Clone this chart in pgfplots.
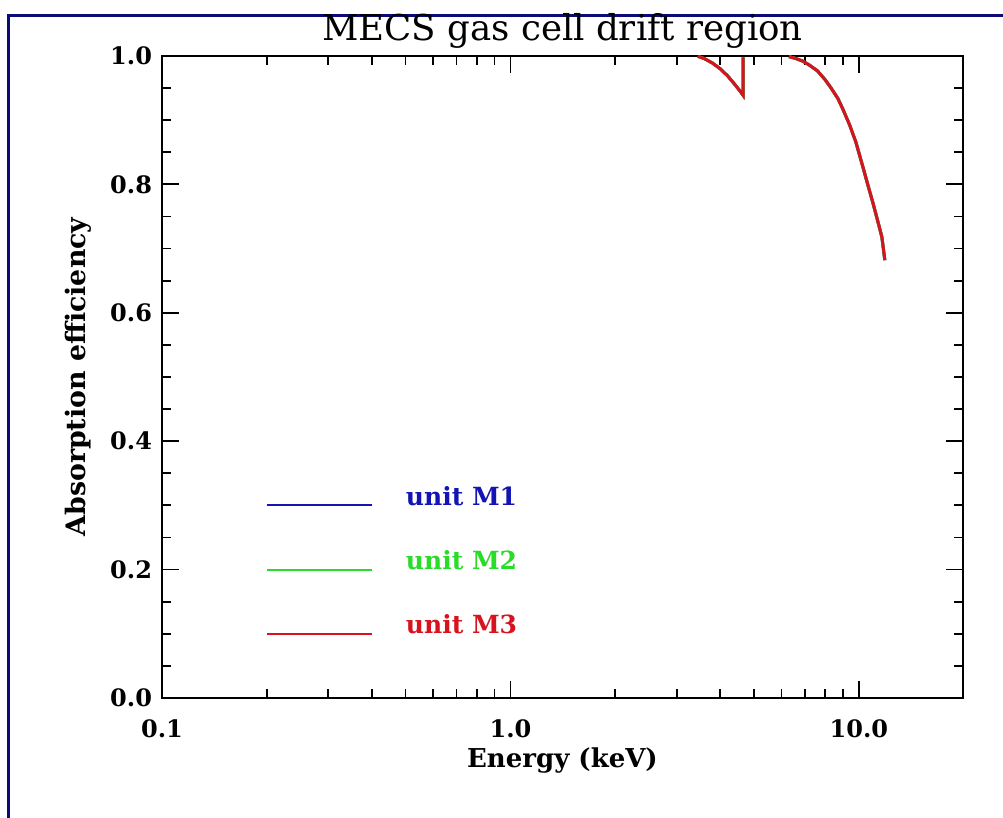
\documentclass[border=0pt]{standalone}
\usepackage{fontspec}
\setmainfont{DejaVu Serif}
\usepackage{pgfplots}
\pgfplotsset{compat=1.18}
\definecolor{framec}{RGB}{10,10,120}
\definecolor{cblue}{RGB}{20,20,180}
\definecolor{cgreen}{RGB}{40,220,40}
\definecolor{cred}{RGB}{215,20,30}
\pgfplotstableread{
E v
3.45 0.9995
3.60 0.996
3.80 0.989
4.00 0.980
4.20 0.969
4.40 0.956
4.55 0.946
4.65 0.939
4.65 0.998
}\segA
\pgfplotstableread{
E v
6.30 0.999
6.60 0.996
6.90 0.992
7.20 0.986
7.60 0.977
8.00 0.963
8.30 0.951
8.70 0.934
9.00 0.917
9.40 0.893
9.80 0.866
10.27 0.827
10.60 0.800
11.00 0.769
11.40 0.737
11.64 0.718
11.87 0.682
}\segB
\begin{document}
\begin{tikzpicture}
\useasboundingbox (0,0) rectangle (501.5bp,409bp);
\fill[white] (0,0) rectangle (501.5bp,409bp);
\draw[framec, line width=1.6bp] (4.25bp,0) -- (4.25bp,401.25bp) -- (501.5bp,401.25bp);
\begin{axis}[
  at={(81bp,60bp)}, anchor=south west,
  scale only axis, width=400.5bp, height=321bp,
  xmode=log, xmin=0.1, xmax=19.9, ymin=0, ymax=1,
  xtick={0.1,1,10}, xticklabels={0.1,1.0,10.0},
  minor xtick={0.2,0.3,0.4,0.5,0.6,0.7,0.8,0.9,2,3,4,5,6,7,8,9},
  ytick={0,0.2,0.4,0.6,0.8,1.0},
  yticklabels={0.0,0.2,0.4,0.6,0.8,1.0},
  minor ytick={0.05,0.1,0.15,0.25,0.3,0.35,0.45,0.5,0.55,0.65,0.7,0.75,0.85,0.9,0.95},
  major tick length=8.5bp, minor tick length=4.5bp,
  tick style={black, line width=0.9bp},
  axis line style={line width=1bp},
  tick align=inside,
  ticklabel style={font=\fontsize{12bp}{14bp}\selectfont\bfseries},
  xticklabel style={yshift=-7.5bp},
  yticklabel style={xshift=-1.5bp},
  xlabel={Energy (keV)},
  xlabel style={font=\fontsize{13bp}{15bp}\selectfont\bfseries, at={(axis description cs:0.5,-0.1075)}, anchor=base, inner sep=0pt},
  ylabel={Absorption efficiency},
  ylabel style={font=\fontsize{13.4bp}{15bp}\selectfont\bfseries, at={(axis description cs:-0.0961,0.5)}, anchor=base, inner sep=0pt},
  clip mode=individual,
]
% unit M1 (blue) -- identical curve, hidden below M3
\addplot[cblue, line width=1.5bp] table[x=E,y=v] {\segA};
\addplot[cblue, line width=1.5bp] table[x=E,y=v] {\segB};
% unit M2 (green)
\addplot[cgreen, line width=1.5bp] table[x=E,y=v] {\segA};
\addplot[cgreen, line width=1.5bp] table[x=E,y=v] {\segB};
% unit M3 (red)
\addplot[cred, line width=1.5bp] table[x=E,y=v] {\segA};
\addplot[cred, line width=1.5bp] table[x=E,y=v] {\segB};
% legend samples
\addplot[cblue, line width=1bp] coordinates {(0.2,0.3)(0.4,0.3)};
\addplot[cgreen, line width=1bp] coordinates {(0.2,0.2)(0.4,0.2)};
\addplot[cred, line width=1bp] coordinates {(0.2,0.1)(0.4,0.1)};
\node[cblue, anchor=base west, inner sep=0pt, font=\fontsize{12.5bp}{14bp}\selectfont\bfseries] at (axis cs:0.5,0.3) {unit M1};
\node[cgreen, anchor=base west, inner sep=0pt, font=\fontsize{12.5bp}{14bp}\selectfont\bfseries] at (axis cs:0.5,0.2) {unit M2};
\node[cred, anchor=base west, inner sep=0pt, font=\fontsize{12.5bp}{14bp}\selectfont\bfseries] at (axis cs:0.5,0.1) {unit M3};
\node[anchor=base, inner sep=0pt, font=\fontsize{17.8bp}{20bp}\selectfont] at (rel axis cs:0.5,1.0249) {MECS gas cell drift region};
\end{axis}
\end{tikzpicture}
\end{document}
